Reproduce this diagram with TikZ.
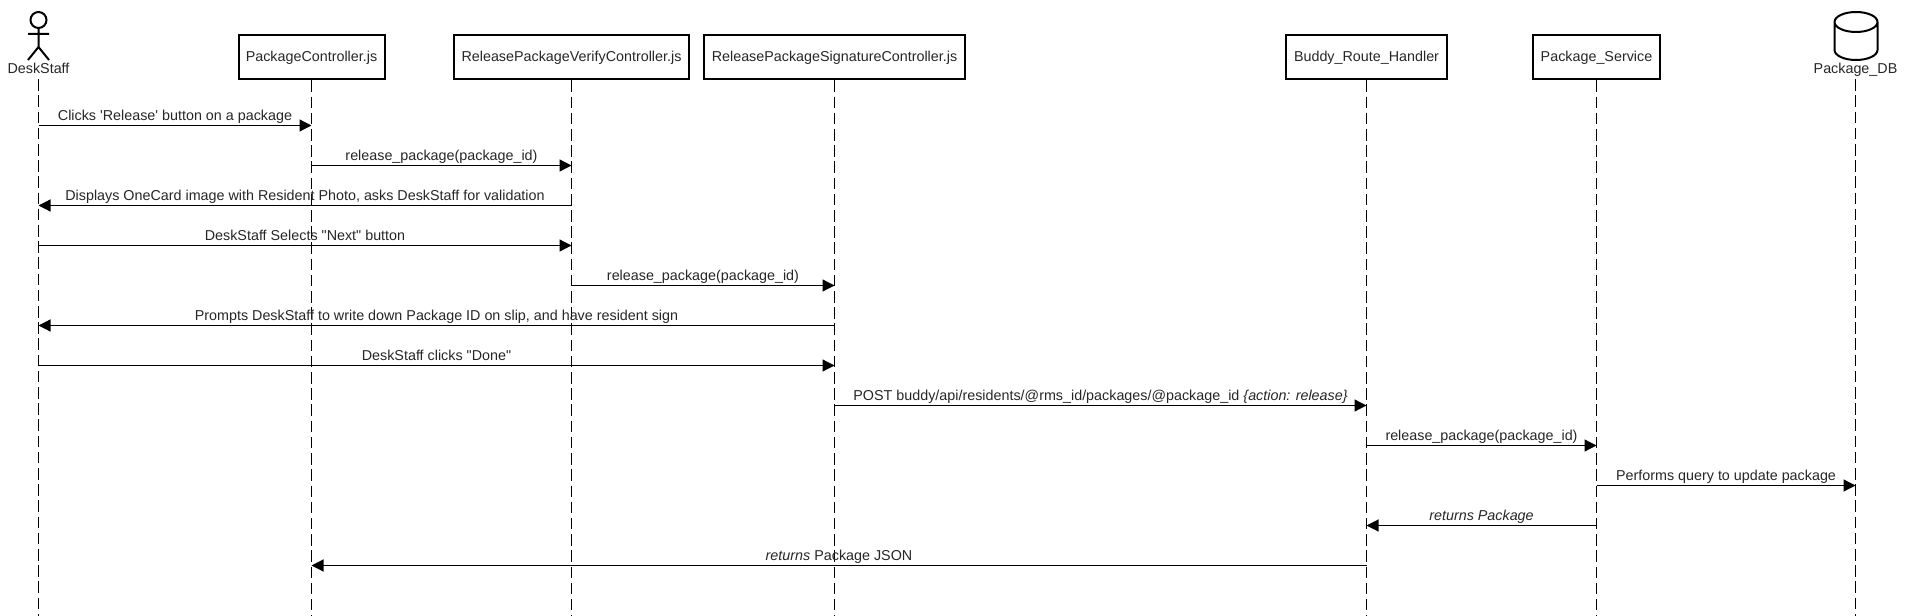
\documentclass[tikz,border=0pt]{standalone}
\usepackage{fontspec}
\usetikzlibrary{arrows.meta}
\newfontfamily\seqfont{Liberation Sans}
\def\px{0.75pt}
\tikzset{
  classbox/.style={draw,line width=2*\px,minimum height=44*\px,inner sep=0pt},
  actorname/.style={inner sep=0pt,text height=10.5*\px,text depth=3.5*\px,minimum height=18*\px},
  actorline/.style={line width=2*\px},
  lifeline/.style={line width=1.2*\px,dash pattern=on 11.5*\px off 4.7*\px},
  msg/.style={line width=1.2*\px,-{Triangle[length=12*\px,width=12*\px]}},
  msglabel/.style={above,inner sep=0pt,yshift=0.5*\px,text height=10.5*\px,text depth=3.5*\px}
}
\begin{document}
\begin{tikzpicture}[x=\px,y=-\px,font=\fontsize{10.75pt}{12pt}\seqfont,text=black!85]
  \useasboundingbox (0,0) rectangle (1905,616);

  % actor
  \draw[actorline] (38.5,20) circle (8*\px);
  \draw[actorline] (38.5,28) -- (38.5,47) -- (28,60) (38.5,47) -- (49,60) (28,34) -- (49,34);
  \node[actorname] (desk) at (38.5,70) {DeskStaff};

  % classes
  \node[classbox,minimum width=146*\px] (pkg) at (311.5,57.5) {PackageController.js};
  \node[classbox,minimum width=235*\px] (verify) at (571.5,57.5) {ReleasePackageVerifyController.js};
  \node[classbox,minimum width=261*\px] (sign) at (834.5,57.5) {ReleasePackageSignatureController.js};
  \node[classbox,minimum width=161*\px] (route) at (1366.5,57.5) {Buddy\_Route\_Handler};
  \node[classbox,minimum width=127*\px] (service) at (1596.5,57.5) {Package\_Service};

  % database
  \draw[actorline] (1834.5,22) arc[start angle=180,end angle=-180,x radius=21.5,y radius=10]
    -- (1834.5,50) arc[start angle=180,end angle=0,x radius=21.5,y radius=10] -- (1877.5,22);
  \node[actorname] (db) at (1855.5,70) {Package\_DB};

  % lifelines and message rows
  \foreach \n in {desk,pkg,verify,sign,route,service,db} {
    \coordinate (\n end) at (\n |- 0,616);
    \draw[lifeline] (\n.south) -- (\n end);
    \foreach \i in {1,...,12}
      \coordinate (\n\i) at (\n |- 0,85.5+40*\i);
  }

  % messages
  \draw[msg] (desk1) -- node[msglabel] {Clicks 'Release' button on a package} (pkg1);
  \draw[msg] (pkg2) -- node[msglabel] {release\_package(package\_id)} (verify2);
  \draw[msg] (verify3) -- node[msglabel] {Displays OneCard image with Resident Photo, asks DeskStaff for validation} (desk3);
  \draw[msg] (desk4) -- node[msglabel] {DeskStaff Selects "Next" button} (verify4);
  \draw[msg] (verify5) -- node[msglabel] {release\_package(package\_id)} (sign5);
  \draw[msg] (sign6) -- node[msglabel] {Prompts DeskStaff to write down Package ID on slip, and have resident sign} (desk6);
  \draw[msg] (desk7) -- node[msglabel] {DeskStaff clicks "Done"} (sign7);
  \draw[msg] (sign8) -- node[msglabel] {POST buddy/api/residents/@rms\_id/packages/@package\_id \textit{\{action: release\}}} (route8);
  \draw[msg] (route9) -- node[msglabel] {release\_package(package\_id)} (service9);
  \draw[msg] (service10) -- node[msglabel] {Performs query to update package} (db10);
  \draw[msg] (service11) -- node[msglabel] {\textit{returns Package}} (route11);
  \draw[msg] (route12) -- node[msglabel] {\textit{returns} Package JSON} (pkg12);
\end{tikzpicture}
\end{document}
